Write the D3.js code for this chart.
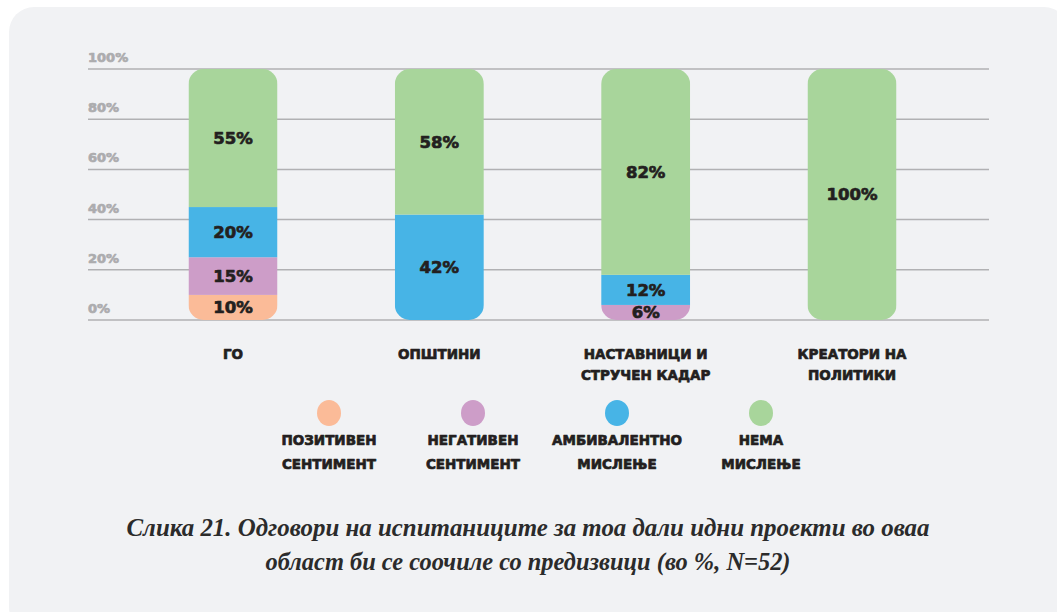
<!DOCTYPE html>
<html><head><meta charset="utf-8">
<script src="https://cdn.jsdelivr.net/npm/d3@7/dist/d3.min.js"></script>
<style>
html,body{margin:0;padding:0;background:#fff;}
svg{display:block;}
.heavy{font-family:"DejaVu Sans","Liberation Sans",sans-serif;font-weight:bold;stroke-width:0.7px;stroke-linejoin:round;}
</style></head>
<body>
<svg id="chart" width="1057" height="612"></svg>
<script>
const categories = [["ГО"], ["ОПШТИНИ"], ["НАСТАВНИЦИ И","СТРУЧЕН КАДАР"], ["КРЕАТОРИ НА","ПОЛИТИКИ"]];
const seriesNames = [["ПОЗИТИВЕН","СЕНТИМЕНТ"],["НЕГАТИВЕН","СЕНТИМЕНТ"],["АМБИВАЛЕНТНО","МИСЛЕЊЕ"],["НЕМА","МИСЛЕЊЕ"]];
const positive  = [10, 0, 0, 0];
const negative  = [15, 0, 6, 0];
const ambivalent= [20, 42, 12, 0];
const noOpinion = [55, 58, 82, 100];
const tickValues = [0, 20, 40, 60, 80, 100];
const colors = ["#fbbb98", "#cd9dc8", "#47b4e6", "#a8d59b"];
const captionLines = ["Слика 21. Одговори на испитаниците за тоа дали идни проекти во оваа","област би се соочиле со предизвици (во %, N=52)"];

const svg = d3.select("#chart");
svg.append("rect").attr("x",9).attr("y",7).attr("width",1060).attr("height",625).attr("rx",25).attr("fill","#f1f2f4");

const y = d3.scaleLinear().domain([0,100]).range([320,69]);
const x = d3.scalePoint().domain(d3.range(categories.length)).range([233,852]);
const barW = 89;
const ink = "#231f20";

const grid = svg.append("g");
tickValues.forEach(t=>{
  grid.append("line").attr("x1",88).attr("x2",989).attr("y1",y(t)).attr("y2",y(t))
    .attr("stroke","#b1b1b3").attr("stroke-width",1.5);
  grid.append("text").attr("class","heavy").attr("x",88).attr("y",y(t)-7)
    .attr("font-size",13).attr("fill","#acacae").attr("stroke","#acacae").text(t+"%");
});

const series = [positive, negative, ambivalent, noOpinion];
const rows = categories.map((c,i)=>({i, p:positive[i], n:negative[i], a:ambivalent[i], o:noOpinion[i]}));
const stack = d3.stack().keys(["p","n","a","o"])(rows);

const defs = svg.append("defs");
categories.forEach((c,i)=>{
  const total = series.reduce((s,arr)=>s+arr[i],0);
  defs.append("clipPath").attr("id","clip"+i).append("rect")
    .attr("x",x(i)-barW/2).attr("y",y(total)).attr("width",barW).attr("height",y(0)-y(total)).attr("rx",15);
});

const barsG = svg.append("g");
stack.forEach((layer,k)=>{
  layer.forEach((d,i)=>{
    if(d[1]-d[0] <= 0) return;
    barsG.append("rect").attr("clip-path",`url(#clip${i})`)
      .attr("x",x(i)-barW/2).attr("y",y(d[1])).attr("width",barW).attr("height",y(d[0])-y(d[1]))
      .attr("fill",colors[k]);
  });
});
stack.forEach((layer,k)=>{
  layer.forEach((d,i)=>{
    const v = d[1]-d[0];
    if(v <= 0) return;
    barsG.append("text").attr("class","heavy").attr("x",x(i)).attr("y",(y(d[0])+y(d[1]))/2)
      .attr("dy","0.36em").attr("text-anchor","middle").attr("font-size",16.5)
      .attr("fill",ink).attr("stroke",ink).text(v+"%");
  });
});

categories.forEach((lines,i)=>{
  lines.forEach((l,j)=>{
    svg.append("text").attr("class","heavy").attr("x",x(i)).attr("y",359+j*21)
      .attr("text-anchor","middle").attr("font-size",13.5).attr("fill",ink).attr("stroke",ink).text(l);
  });
});

const legX = d3.scalePoint().domain(d3.range(seriesNames.length)).range([329,761]);
seriesNames.forEach((lines,k)=>{
  svg.append("ellipse").attr("cx",legX(k)).attr("cy",413).attr("rx",12).attr("ry",13).attr("fill",colors[k]);
  lines.forEach((l,j)=>{
    svg.append("text").attr("class","heavy").attr("x",legX(k)).attr("y",445+j*24)
      .attr("text-anchor","middle").attr("font-size",13.5).attr("fill",ink).attr("stroke",ink).text(l);
  });
});

const capW = [803, 525];
captionLines.forEach((l,j)=>{
  svg.append("text").attr("x",528).attr("y",536+j*34).attr("text-anchor","middle")
    .attr("font-family","'Liberation Serif','DejaVu Serif',serif").attr("font-style","italic").attr("font-weight","bold")
    .attr("font-size",25).attr("fill","#2b2b2b")
    .attr("textLength",capW[j]).attr("lengthAdjust","spacingAndGlyphs").text(l);
});
</script>
</body></html>
